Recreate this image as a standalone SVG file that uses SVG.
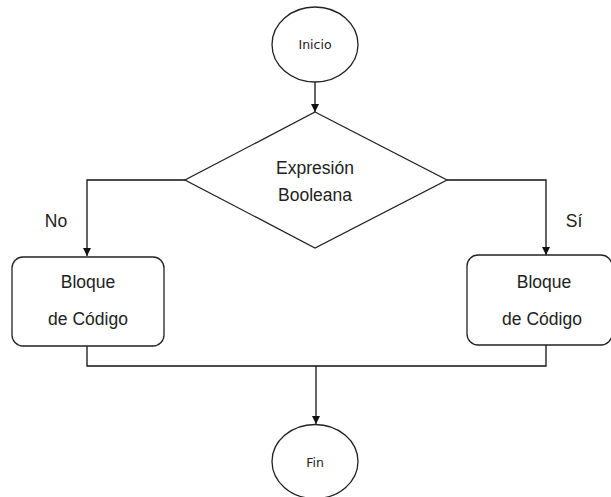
<svg xmlns="http://www.w3.org/2000/svg" width="611" height="497" viewBox="0 0 611 497">
<defs>
<style>
.s{fill:#fff;stroke:#222;stroke-width:1.3}
.c{fill:none;stroke:#111;stroke-width:1.3}
.t{font-family:"Liberation Sans",Arial,sans-serif;font-size:17.5px;fill:#222;text-anchor:middle}
.ts{font-family:"DejaVu Sans",Verdana,sans-serif;font-size:12.5px;fill:#222;text-anchor:middle}
</style>
<marker id="a" viewBox="0 0 10 10" refX="10" refY="5" markerWidth="8" markerHeight="8" markerUnits="userSpaceOnUse" orient="auto">
<path d="M0,0 L10,5 L0,10 Z" fill="#111"/>
</marker>
</defs>
<rect width="611" height="497" fill="#fff"/>
<g id="connectors">
<path class="c" d="M315,82 V112" marker-end="url(#a)"/>
<path class="c" d="M185,180 H87 V256" marker-end="url(#a)"/>
<path class="c" d="M447,180 H546 V255" marker-end="url(#a)"/>
<path class="c" d="M87,346 V366 H546 V345"/>
<path class="c" d="M316,366 V424" marker-end="url(#a)"/>
</g>
<g id="inicio">
<ellipse class="s" cx="315" cy="44.5" rx="43" ry="37.5"/>
<text class="ts" x="315" y="49">Inicio</text>
</g>
<g id="decision">
<polygon class="s" points="315,112 447,180 315,248 185,180"/>
<text class="t" x="315" y="174">Expresión</text>
<text class="t" x="315" y="201">Booleana</text>
</g>
<g id="label-no"><text class="t" x="56" y="227">No</text></g>
<g id="label-si"><text class="t" x="574" y="227">Sí</text></g>
<g id="bloque-izq">
<rect class="s" x="12" y="257" width="152" height="89" rx="11"/>
<text class="t" x="88" y="288">Bloque</text>
<text class="t" x="88" y="325">de Código</text>
</g>
<g id="bloque-der">
<rect class="s" x="467" y="255" width="145" height="90" rx="11"/>
<text class="t" x="544" y="288">Bloque</text>
<text class="t" x="542" y="325">de Código</text>
</g>
<g id="fin">
<ellipse class="s" cx="315" cy="461.5" rx="43" ry="37"/>
<text class="ts" x="315" y="467">Fin</text>
</g>
</svg>
